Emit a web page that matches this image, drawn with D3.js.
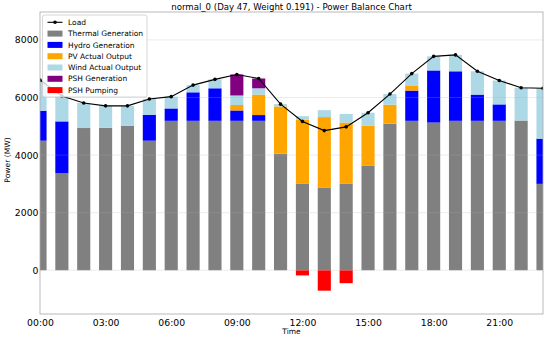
<!DOCTYPE html>
<html>
<head>
<meta charset="utf-8">
<script src="https://cdn.jsdelivr.net/npm/d3@7"></script>
<style>
  body { margin: 0; background: #fff; }
  svg { display: block; font-family: "DejaVu Sans", sans-serif; }
</style>
</head>
<body>
<div id="chart"></div>
<script>
const hours = d3.range(0, 24);
const thermal = [4500, 3370, 4940, 4950, 5020, 4500, 5190, 5190, 5190, 5190, 5190, 4050,
  3000, 2860, 3000, 3640, 5090, 5190, 5130, 5190, 5190, 5190, 5200, 3000];
const hydro = [1040, 1800, 0, 0, 0, 900, 430, 990, 1130, 360, 200, 0,
  0, 0, 0, 0, 0, 1050, 1810, 1720, 910, 570, 0, 1570];
const pv = [0, 0, 0, 0, 0, 0, 0, 0, 0, 190, 710, 1640,
  2230, 2460, 2130, 1380, 660, 180, 0, 0, 0, 0, 0, 0];
const wind = [1070, 880, 870, 760, 690, 550, 410, 250, 310, 330, 220, 80,
  120, 240, 300, 450, 370, 410, 490, 570, 810, 830, 1140, 1750];
const pshGen = [0, 0, 0, 0, 0, 0, 0, 0, 0, 730, 340, 0,
  0, 0, 0, 0, 0, 0, 0, 0, 0, 0, 0, 0];
const pshPump = [0, 0, 0, 0, 0, 0, 0, 0, 0, 0, 0, 0,
  -180, -710, -450, 0, 0, 0, 0, 0, 0, 0, 0, 0];
const load = [6610, 6050, 5810, 5710, 5710, 5950, 6030, 6430, 6630, 6800, 6660, 5770,
  5170, 4850, 4980, 5470, 6120, 6830, 7430, 7480, 6910, 6590, 6340, 6320];

const yTicks = [0, 2000, 4000, 6000, 8000];
const xTicks = [0, 3, 6, 9, 12, 15, 18, 21];

const series = [
  { key: "thermal", label: "Thermal Generation", color: "#808080", values: thermal },
  { key: "hydro", label: "Hydro Generation", color: "#0000ff", values: hydro },
  { key: "pv", label: "PV Actual Output", color: "#ffa500", values: pv },
  { key: "wind", label: "Wind Actual Output", color: "#add8e6", values: wind },
  { key: "pshGen", label: "PSH Generation", color: "#800080", values: pshGen },
  { key: "pshPump", label: "PSH Pumping", color: "#ff0000", values: pshPump },
];

const width = 550;
const height = 340;
const margin = { top: 12, right: 7, bottom: 26, left: 40 };

const rows = hours.map((h, i) => {
  const r = { hour: h };
  series.forEach((s) => (r[s.key] = s.values[i]));
  return r;
});

const x = d3.scaleLinear().domain([0, 23]).range([margin.left, width - margin.right]);
const y = d3.scaleLinear().domain([-1520, 8970]).range([height - margin.bottom, margin.top]);
const barW = x(0.6) - x(0);

const svg = d3.select("#chart").append("svg").attr("width", width).attr("height", height);

svg.append("clipPath").attr("id", "plot-clip")
  .append("rect")
  .attr("x", margin.left).attr("y", margin.top)
  .attr("width", width - margin.left - margin.right)
  .attr("height", height - margin.top - margin.bottom);

const stacked = d3.stack()
  .keys(series.map((s) => s.key))
  .offset(d3.stackOffsetDiverging)(rows);

const gBars = svg.append("g").attr("clip-path", "url(#plot-clip)");
gBars.selectAll("g")
  .data(stacked)
  .join("g")
  .attr("fill", (d, i) => series[i].color)
  .selectAll("rect")
  .data((d) => d.filter((p) => p[1] !== p[0]))
  .join("rect")
  .attr("x", (d) => x(d.data.hour) - barW / 2)
  .attr("width", barW)
  .attr("y", (d) => y(Math.max(d[0], d[1])))
  .attr("height", (d) => Math.abs(y(d[0]) - y(d[1])));

// grid (drawn on top, faint like matplotlib alpha)
svg.append("g")
  .selectAll("line")
  .data(yTicks)
  .join("line")
  .attr("x1", margin.left).attr("x2", width - margin.right)
  .attr("y1", (d) => y(d)).attr("y2", (d) => y(d))
  .attr("stroke", "#b0b0b0").attr("stroke-opacity", 0.3).attr("stroke-width", 0.8);

// load line
const line = d3.line().x((d, i) => x(hours[i])).y((d) => y(d));
const gLoad = svg.append("g").attr("clip-path", "url(#plot-clip)");
gLoad.append("path")
  .attr("d", line(load))
  .attr("fill", "none").attr("stroke", "#000").attr("stroke-width", 1.1);
gLoad.selectAll("circle")
  .data(load)
  .join("circle")
  .attr("cx", (d, i) => x(hours[i])).attr("cy", (d) => y(d))
  .attr("r", 1.8).attr("fill", "#000");

// frame
svg.append("rect")
  .attr("x", margin.left).attr("y", margin.top)
  .attr("width", width - margin.left - margin.right)
  .attr("height", height - margin.top - margin.bottom)
  .attr("fill", "none").attr("stroke", "#a8a8a8").attr("stroke-width", 0.8);

// axes
const yAxis = svg.append("g")
  .attr("transform", `translate(${margin.left},0)`)
  .call(d3.axisLeft(y).tickValues(yTicks).tickSize(0).tickPadding(1.5).tickFormat(d3.format("d")));
const xAxis = svg.append("g")
  .attr("transform", `translate(0,${height - margin.bottom})`)
  .call(d3.axisBottom(x).tickValues(xTicks).tickSize(0).tickPadding(5)
    .tickFormat((d) => String(d).padStart(2, "0") + ":00"));
[yAxis, xAxis].forEach((g) => {
  g.select(".domain").remove();
  g.selectAll("text").attr("font-size", 9.3).attr("fill", "#000").attr("font-family", "DejaVu Sans");
});

svg.append("text")
  .attr("x", (margin.left + width - margin.right) / 2).attr("y", 9.5)
  .attr("text-anchor", "middle").attr("font-size", 8.6)
  .text("normal_0 (Day 47, Weight 0.191) - Power Balance Chart");

svg.append("text")
  .attr("x", 291.5).attr("y", 333.5)
  .attr("text-anchor", "middle").attr("font-size", 7.5)
  .text("Time");

svg.append("text")
  .attr("transform", "translate(9.5,160) rotate(-90)")
  .attr("text-anchor", "middle").attr("font-size", 7.6)
  .text("Power (MW)");

// legend
const legend = svg.append("g").attr("transform", "translate(42.5,15)");
legend.append("rect")
  .attr("width", 104.5).attr("height", 82).attr("rx", 2)
  .attr("fill", "#fff").attr("fill-opacity", 0.8)
  .attr("stroke", "#ccc").attr("stroke-width", 0.8);
const entries = [{ label: "Load", line: true }].concat(series);
const item = legend.selectAll("g.item")
  .data(entries)
  .join("g")
  .attr("class", "item")
  .attr("transform", (d, i) => `translate(5,${7.3 + i * 11.3})`);
item.filter((d) => d.line).append("line")
  .attr("x1", 0).attr("x2", 15).attr("stroke", "#000").attr("stroke-width", 1.1);
item.filter((d) => d.line).append("circle")
  .attr("cx", 7.5).attr("r", 1.8).attr("fill", "#000");
item.filter((d) => !d.line).append("rect")
  .attr("x", 0).attr("y", -3).attr("width", 15).attr("height", 6)
  .attr("fill", (d) => d.color);
item.append("text")
  .attr("x", 20.5).attr("dy", "0.35em").attr("font-size", 7.5)
  .text((d) => d.label);
</script>
</body>
</html>
